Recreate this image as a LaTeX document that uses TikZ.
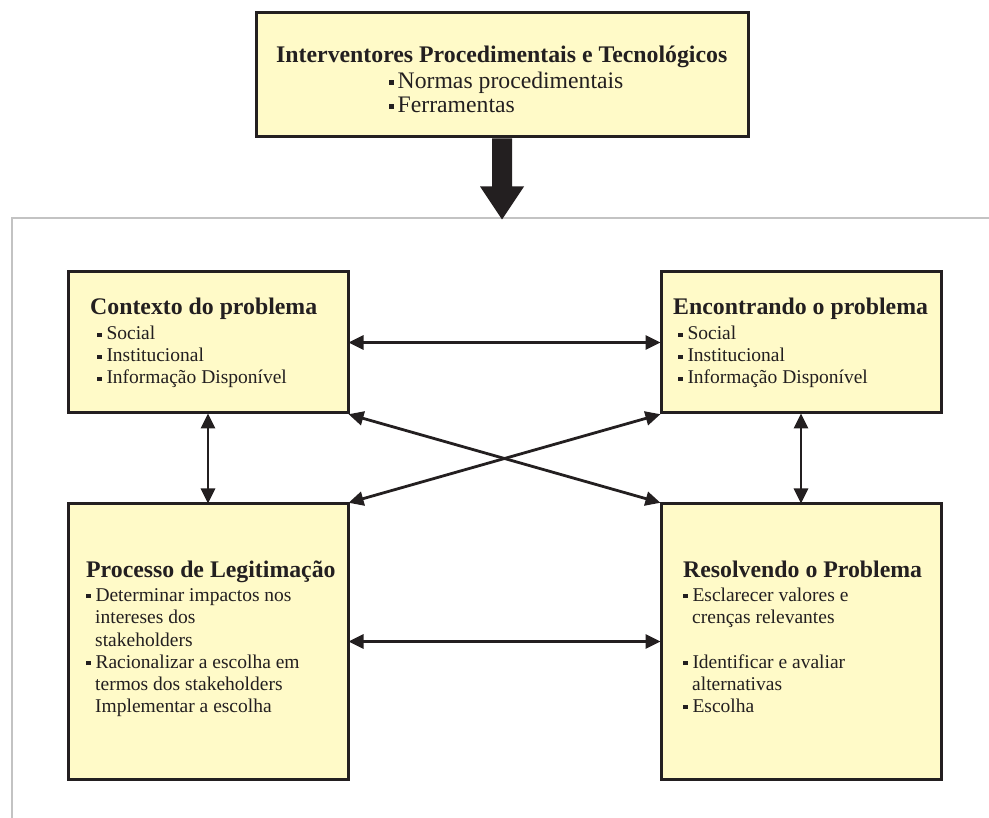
\documentclass[tikz,border=0pt]{standalone}
\usepackage{fontspec}
\setmainfont{Liberation Serif}
\usetikzlibrary{arrows.meta,calc}
\definecolor{boxfill}{RGB}{255,250,200}
\definecolor{ink}{RGB}{35,31,32}
\definecolor{framegray}{RGB}{195,195,195}
\newcommand{\bl}{\raisebox{3pt}{\rule{4.3pt}{4.3pt}}\hspace{5pt}}
\newcommand{\bbl}{\raisebox{4pt}{\rule{4.5pt}{4.5pt}}\hspace{4pt}}
\begin{document}
\begin{tikzpicture}[x=1pt,y=-1pt,
  box/.style={draw=ink,fill=boxfill,line width=3pt,inner sep=0pt},
  head/.style={anchor=base west,inner sep=0pt,text=ink,font=\bfseries\fontsize{23.8}{26}\selectfont},
  item/.style={anchor=base west,inner sep=0pt,text=ink,font=\fontsize{19.5}{22}\selectfont},
  bigitem/.style={anchor=base west,inner sep=0pt,text=ink,font=\fontsize{23.7}{26}\selectfont},
  arr/.style={draw=ink,line width=2.8pt,{Triangle[length=15pt,width=14pt]}-{Triangle[length=15pt,width=14pt]},shorten <=-1pt,shorten >=-1pt}]
\useasboundingbox (0,0) rectangle (989,818);
% frame
\draw[framegray,line width=1.5pt] (12,818) -- (12,218) -- (989,218);
% top box
\node[box,minimum width=492pt,minimum height=124pt] (top) at (502,75) {};
\node[head] (toph) at (276,63) {Interventores Procedimentais e Tecnológicos};
\node[bigitem] (topa) at (389,89) {\bbl Normas procedimentais};
\node[bigitem] (topb) at (389,113) {\bbl Ferramentas};
% big arrow
\fill[ink] ($(top.south)+(-10,0)$) -- ++(20,0) -- ++(0,48) -- ++(12,0) -- ($(top.south)+(0,81)$) coordinate (bigtip) -- ++(-22,-33) -- ++(12,0) -- cycle;
% four boxes
\node[box,minimum width=280pt,minimum height=141pt] (ctx) at (208,342.5) {};
\node[box,minimum width=280pt,minimum height=141pt] (enc) at (801,342.5) {};
\node[box,minimum width=280pt,minimum height=275pt] (proc) at (208,641.5) {};
\node[box,minimum width=280pt,minimum height=275pt] (res) at (801,641.5) {};
% ctx text
\node[head] (ctxh) at (90,315) {Contexto do problema};
\node[item] (ctx1) at (97,340) {\bl Social};
\node[item] (ctx2) at (97,362) {\bl Institucional};
\node[item] (ctx3) at (97,384) {\bl Informação Disponível};
% enc text
\node[head] (ench) at (673,315) {Encontrando o problema};
\node[item] (enc1) at (678,340) {\bl Social};
\node[item] (enc2) at (678,362) {\bl Institucional};
\node[item] (enc3) at (678,384) {\bl Informação Disponível};
% proc text
\node[head] (proch) at (86,577) {Processo de Legitimação};
\node[item] (proc1) at (86,601) {\bl Determinar impactos nos};
\node[item] (proc2) at (95,623) {intereses dos};
\node[item] (proc3) at (95,646) {stakeholders};
\node[item] (proc4) at (86,668) {\bl Racionalizar a escolha em};
\node[item] (proc5) at (95,690) {termos dos stakeholders};
\node[item] (proc6) at (95,712) {Implementar a escolha};
% res text
\node[head] (resh) at (683,577) {Resolvendo o Problema};
\node[item] (res1) at (683,601) {\bl Esclarecer valores e};
\node[item] (res2) at (692,623) {crenças relevantes};
\node[item] (res3) at (683,668) {\bl Identificar e avaliar};
\node[item] (res4) at (692,690) {alternativas};
\node[item] (res5) at (683,712) {\bl Escolha};
% connectors
\draw[arr] (ctx.east) -- (enc.west);
\draw[arr] (proc.east) -- (res.west);
\draw[arr] (ctx.south) -- (proc.north);
\draw[arr] (enc.south) -- (res.north);
\draw[arr] (ctx.south east) -- (res.north west);
\draw[arr] (enc.south west) -- (proc.north east);
\end{tikzpicture}
\end{document}
